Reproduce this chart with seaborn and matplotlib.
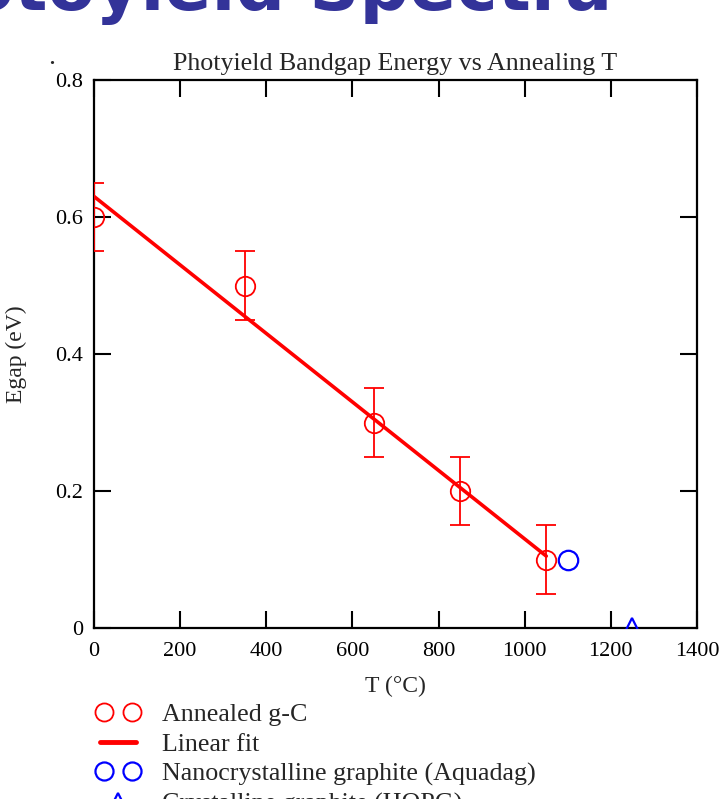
import matplotlib
matplotlib.use("Agg")
import matplotlib.pyplot as plt
import seaborn as sns
import pandas as pd
from matplotlib.lines import Line2D
from matplotlib.legend_handler import HandlerLine2D

# ---- data ----
anneal_T = [0, 350, 650, 850, 1050]
anneal_E = [0.6, 0.5, 0.3, 0.2, 0.1]
anneal_err = [0.05, 0.05, 0.05, 0.05, 0.05]
fit_T = [0, 1050]
fit_E = [0.63, 0.105]
aquadag_T = [1100]
aquadag_E = [0.1]
hopg_T = [1250]
hopg_E = [0.0]
xticks = [0, 200, 400, 600, 800, 1000, 1200, 1400]
yticks = [0, 0.2, 0.4, 0.6, 0.8]
ytick_labels = ["0", "0.2", "0.4", "0.6", "0.8"]
legend_labels = ["Annealed g-C", "Linear fit",
                 "Nanocrystalline graphite (Aquadag)", "Crystalline graphite (HOPG)"]

sns.set_theme(style="ticks")
plt.rcParams["font.family"] = ["Liberation Serif", "DejaVu Serif"]

W, H = 724, 799
fig = plt.figure(figsize=(W / 100, H / 100), dpi=100)
ax = fig.add_axes([94 / W, 1 - 628 / H, (697 - 94) / W, (628 - 80) / H])

# header (cropped slide title)
fig.text(612 / W, 1 - 10 / H, "Photoyield Spectra", ha="right", va="baseline",
         fontsize=50, fontweight="bold", color="#333399", family="DejaVu Sans")
fig.text(52 / W, 1 - 64 / H, ".", ha="center", va="baseline", fontsize=20)

red = "#ff0000"
blue = "#0000ff"

fit_df = pd.DataFrame({"T": fit_T, "E": fit_E})
sns.lineplot(data=fit_df, x="T", y="E", ax=ax, color=red, linewidth=2.6, zorder=3)

ax.errorbar(anneal_T, anneal_E, yerr=anneal_err, fmt="o", ms=14, mfc="none",
            mec=red, mew=1.3, ecolor=red, elinewidth=1.3, capsize=7, capthick=1.3,
            zorder=4)
ax.plot(aquadag_T, aquadag_E, "o", ms=14, mfc="none", mec=blue, mew=1.6, zorder=4)
ax.plot(hopg_T, hopg_E, "^", ms=14, mfc="none", mec=blue, mew=1.6, zorder=4)

ax.set_xlim(0, 1400)
ax.set_ylim(0, 0.8)
ax.set_xticks(xticks)
ax.set_xticklabels([str(t) for t in xticks])
ax.set_yticks(yticks)
ax.set_yticklabels(ytick_labels)
ax.tick_params(direction="in", top=True, right=True, length=12, width=1.5,
               labelsize=16, colors="black")
ax.tick_params(axis="x", pad=10)
ax.tick_params(axis="y", pad=8)
for s in ax.spines.values():
    s.set_linewidth(1.6)
    s.set_color("black")

ax.set_xlabel("T (°C)", fontsize=17, labelpad=11)
ax.set_ylabel("Egap (eV)", fontsize=17, labelpad=20)
ax.set_title("Photyield Bandgap Energy vs Annealing T", fontsize=18.7, pad=7)

handles = [
    Line2D([], [], linestyle="none", marker="o", ms=13, mfc="none", mec=red, mew=1.3),
    Line2D([], [], color=red, linewidth=3.5),
    Line2D([], [], linestyle="none", marker="o", ms=13, mfc="none", mec=blue, mew=1.6),
    Line2D([], [], linestyle="none", marker="^", ms=13, mfc="none", mec=blue, mew=1.6),
]
leg = fig.legend(handles, legend_labels, loc="upper left",
                 bbox_to_anchor=(92 / W, 1 - 703 / H), frameon=False,
                 fontsize=18.7, numpoints=2, handlelength=2.0, handletextpad=0.7,
                 labelspacing=0.25, borderpad=0, borderaxespad=0,
                 handler_map={handles[0]: HandlerLine2D(marker_pad=0.45),
                              handles[2]: HandlerLine2D(marker_pad=0.45),
                              handles[3]: HandlerLine2D(numpoints=1)})

fig.savefig("out.png", dpi=100)
